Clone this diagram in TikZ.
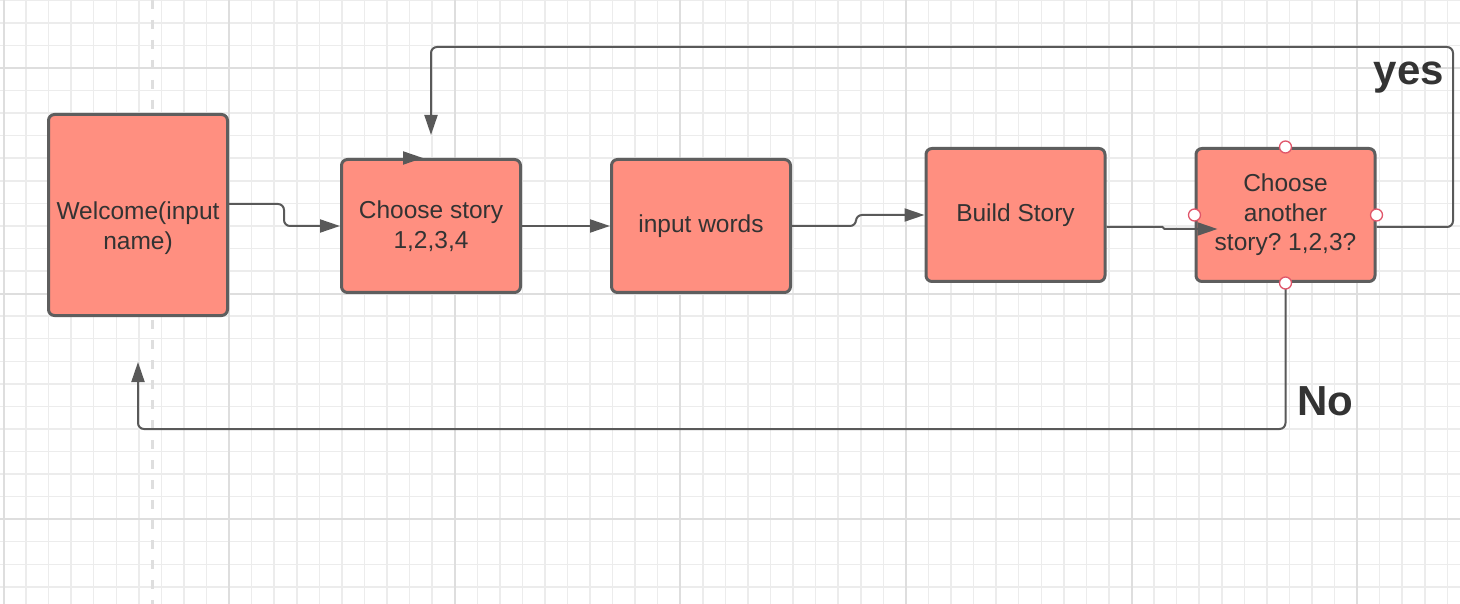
\documentclass[tikz,border=0pt]{standalone}
\usepackage{fontspec}
\setmainfont{Liberation Sans}
\frenchspacing
\usetikzlibrary{arrows.meta, positioning}
\definecolor{boxfill}{RGB}{255,143,128}
\definecolor{boxline}{RGB}{94,94,94}
\definecolor{linkgray}{RGB}{89,89,89}
\definecolor{gridminor}{RGB}{236,236,236}
\definecolor{gridmajor}{RGB}{222,222,222}
\definecolor{txtgray}{RGB}{51,51,51}
\definecolor{portred}{RGB}{224,86,106}
\tikzstyle{boxtext} = [text=txtgray, align=center, font=\fontsize{24.5}{29.5}\selectfont]
\tikzstyle{box} = [boxtext, draw=boxline, line width=3pt, fill=boxfill, rounded corners=6pt, minimum width=179pt, minimum height=133pt, inner sep=0pt]
\tikzstyle{arrow} = [draw=linkgray, line width=2pt, rounded corners=6pt, -{Triangle[length=20pt, width=13pt]}]
\tikzstyle{answer} = [text=txtgray, font=\fontsize{42}{48}\selectfont\bfseries, anchor=base, inner sep=0pt]
\tikzstyle{port} = [circle, draw=portred, fill=white, line width=1.3pt, minimum size=12pt, inner sep=0pt]

\begin{document}
\begin{tikzpicture}[x=1pt, y=-1pt]
    \useasboundingbox (0,0) rectangle (1460,604);
    \fill[white] (0,0) rectangle (1460,604);
    % background grid
    \foreach \i in {0,...,64}
        \draw[gridminor, line width=1.5pt] ({3.5+22.56*\i},0) -- ({3.5+22.56*\i},604);
    \foreach \j in {0,...,26}
        \draw[gridminor, line width=1.5pt] (0,{0.3+22.56*\j}) -- (1460,{0.3+22.56*\j});
    \foreach \i in {0,10,...,60}
        \draw[gridmajor, line width=2pt] ({3.5+22.56*\i},0) -- ({3.5+22.56*\i},604);
    \foreach \j in {3,13,23}
        \draw[gridmajor, line width=2pt] (0,{0.3+22.56*\j}) -- (1460,{0.3+22.56*\j});
    \draw[gridmajor, line width=3pt, dash pattern=on 9pt off 11pt] (152,0) -- (152,604);

    % steps
    \node[box, minimum height=201pt, label={[boxtext, yshift=-13pt]center:{Welcome(input\\name)}}] (welcome) at (138,215) {};
    \node[box] (choose) at (431,226) {Choose story\\1,2,3,4};
    \node[box] (words) at (701,226) {input words};
    \node[box] (build) at (1015.5,215) {Build Story};
    \node[box] (another) at (1285.5,215) {Choose\\another\\story? 1,2,3?};

    \coordinate (loopR) at (1453,47);
    \coordinate (loopB) at (138,429);

    % links
    \draw[arrow] ([yshift=11pt]welcome.east) -- ++(55,0) |- (choose.west);
    \draw[arrow] (choose.east) -- (words.west);
    \draw[arrow] (words.east) -- ++(64,0) |- (build.west);
    \draw[arrow, rounded corners=1pt] ([yshift=-12pt]build.east) -- ++(57,0) |- ([xshift=23pt,yshift=-14pt]another.west);
    \draw[arrow] ([xshift=-28pt]choose.north) -- ([xshift=-8pt]choose.north);
    \draw[arrow] ([yshift=-12pt]another.east) -| (loopR) -| ([yshift=23pt]choose.north);
    \draw[arrow] (another.south) |- (loopB) -- ([yshift=-45pt]welcome.south);

    \node[answer] (yes) at (1409,85) {yes};
    \node[answer] (no) at (1325,415) {No};

    % connection points
    \node[port] (portN) at (another.north) {};
    \node[port] (portW) at (another.west) {};
    \node[port] (portE) at (another.east) {};
    \node[port] (portS) at (another.south) {};
\end{tikzpicture}
\end{document}
